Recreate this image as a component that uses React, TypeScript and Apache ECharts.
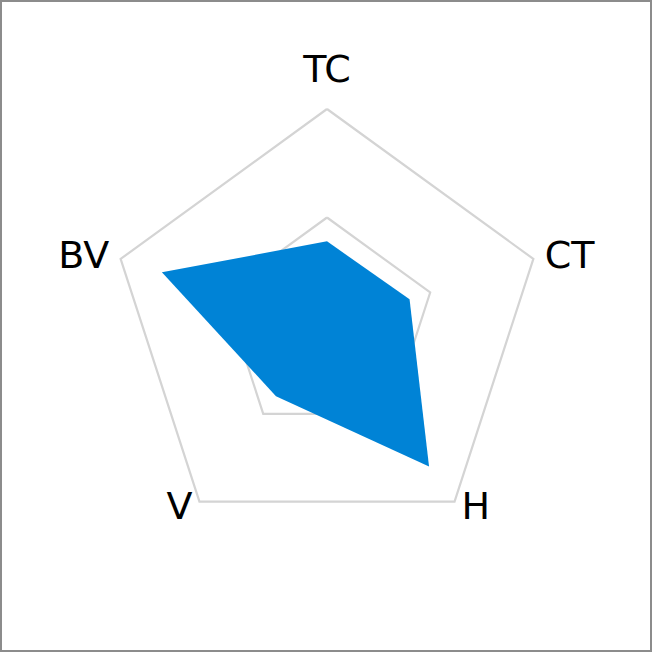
import * as echarts from 'echarts'
import { useEffect, useRef } from 'react'

// indicators in ECharts order (counter-clockwise from the top)
const indicators = ['TC', 'BV', 'V', 'H', 'CT']
const maxValue = 10
const scores = [3.9, 8, 4, 8, 4]

const labelFont = {
  color: '#000000',
  fontFamily: 'DejaVu Sans',
  fontSize: 38,
}

export default function App() {
  const containerRef = useRef<HTMLDivElement | null>(null)

  useEffect(() => {
    document.body.style.margin = '0'
    if (!containerRef.current) {
      return
    }

    const chart = echarts.init(containerRef.current, undefined, {
      renderer: 'svg',
    })

    chart.setOption({
      animation: false,
      backgroundColor: '#ffffff',
      radar: {
        axisLine: { show: false },
        axisName: {
          ...labelFont,
          formatter: (name: string) => {
            if (name === 'TC') return `{top|${name}}`
            if (name === 'V' || name === 'H') return `{low|${name}}`
            return `{side|${name}}`
          },
          rich: {
            low: { ...labelFont, padding: [0, 0, 10, 0] },
            side: { ...labelFont },
            top: { ...labelFont, padding: [0, 0, 9, 0] },
          },
        },
        center: [325, 324],
        indicator: indicators.map((name) => ({ max: maxValue, name })),
        nameGap: 12,
        radius: 217,
        shape: 'polygon',
        splitArea: { show: false },
        splitLine: {
          lineStyle: { color: '#d4d4d4', width: 2.2 },
        },
        splitNumber: 2,
      },
      series: [
        {
          areaStyle: { color: '#0083d6', opacity: 1 },
          data: [{ name: 'score', value: scores }],
          lineStyle: { width: 0 },
          symbol: 'none',
          type: 'radar',
        },
      ],
    })

    return () => {
      chart.dispose()
    }
  }, [])

  return (
    <div
      ref={containerRef}
      style={{
        border: '2px solid #8c8c8c',
        boxSizing: 'border-box',
        height: 652,
        width: 652,
      }}
    />
  )
}
